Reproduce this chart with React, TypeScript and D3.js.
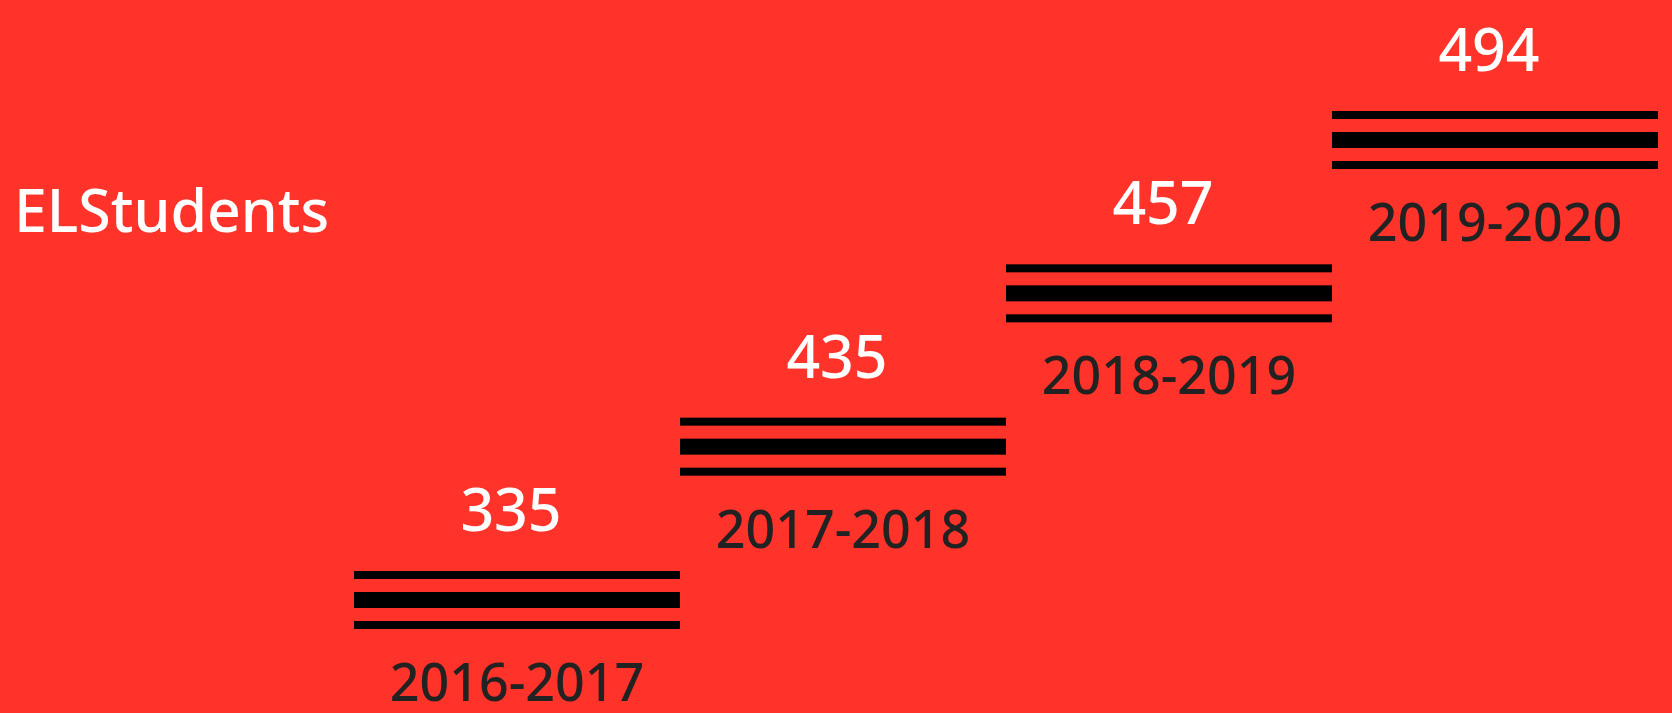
import React from "react";
import * as d3 from "d3";

const categories = ["2016-2017", "2017-2018", "2018-2019", "2019-2020"];
const values = [335, 435, 457, 494];
const title = "ELStudents";

const W = 1672;
const H = 713;

export default function App() {
  const x = d3.scaleBand<string>().domain(categories).range([354, 1658]).padding(0);
  // staircase: each category sits one step higher, ordered by value
  const order = categories.slice().sort((a, b) => values[categories.indexOf(a)] - values[categories.indexOf(b)]);
  const y = d3.scalePoint<string>().domain(order).range([600, 140]);
  const font = "'Noto Sans', 'Open Sans', sans-serif";
  const lines = [
    { dy: -29, h: 8 },
    { dy: -8, h: 16 },
    { dy: 21, h: 8 },
  ];
  return (
    <svg width={W} height={H} style={{ position: "fixed", left: 0, top: 0, display: "block" }}>
      <rect x={0} y={0} width={W} height={H} fill="#ff3329" />
      <text x={14} y={232} fill="#ffffff" fontFamily={font} fontSize={59} fontWeight={500}>
        {title}
      </text>
      {categories.map((c, i) => {
        const cx = (x(c) as number) + x.bandwidth() / 2;
        const cy = y(c) as number;
        return (
          <g key={c}>
            {lines.map((l, j) => (
              <rect key={j} x={x(c)} y={cy + l.dy} width={x.bandwidth()} height={l.h} fill="#000" />
            ))}
            <text x={cx - 6} y={cy - 69} textAnchor="middle" fill="#ffffff" fontFamily={font} fontSize={59} fontWeight={500}>
              {d3.format("d")(values[i])}
            </text>
            <text x={cx} y={cy + 101} textAnchor="middle" fill="#222222" fontFamily={font} fontSize={52} fontWeight={500}>
              {c}
            </text>
          </g>
        );
      })}
    </svg>
  );
}
